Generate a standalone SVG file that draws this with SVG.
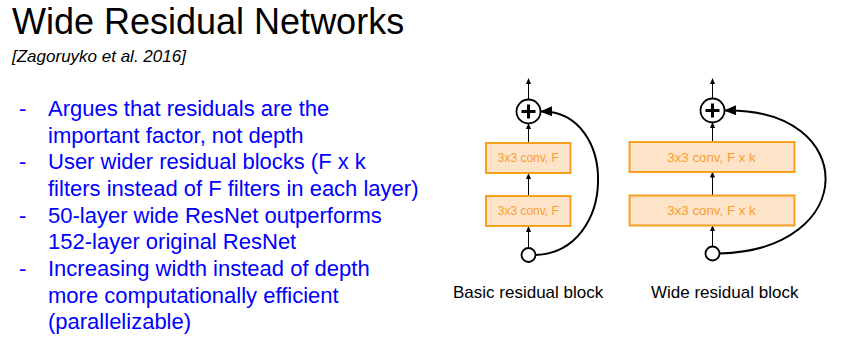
<svg xmlns="http://www.w3.org/2000/svg" width="846" height="345" viewBox="0 0 846 345">
<defs>
<marker id="sa" markerWidth="6" markerHeight="6" refX="5" refY="3" orient="auto" markerUnits="userSpaceOnUse"><path d="M0,0.5 L6,3 L0,5.5 Z" fill="#000"/></marker>
<marker id="ba" markerWidth="12" markerHeight="10" refX="11" refY="5" orient="auto" markerUnits="userSpaceOnUse"><path d="M0,0 L12,5 L0,10 Z" fill="#000"/></marker>
</defs>
<style>
.t{font-family:"Liberation Sans",Arial,sans-serif}
.b{fill:#0000ff;font-size:22px}
.box{fill:#fde3c8;stroke:#f7a020;stroke-width:2}
.bt{fill:#f7a030;font-size:12px;text-anchor:middle}
.wt{font-size:13.3px}
.ln{stroke:#000;stroke-width:1;fill:none;marker-end:url(#sa)}
.cv{stroke:#000;stroke-width:2;fill:none;marker-end:url(#ba)}
.c{fill:#fff;stroke:#000;stroke-width:1.8}
.lab{font-size:17px;fill:#000}
</style>
<rect width="846" height="345" fill="#fff"/>
<text class="t" x="12" y="34" font-size="36" fill="#000">Wide Residual Networks</text>
<text class="t" x="12" y="62" font-size="17" font-style="italic" fill="#000">[Zagoruyko et al. 2016]</text>
<g class="t b">
<text x="19" y="116">-</text><text x="48" y="116">Argues that residuals are the</text>
<text x="48" y="142.7">important factor, not depth</text>
<text x="19" y="169.3">-</text><text x="48" y="169.3">User wider residual blocks (F x k</text>
<text x="48" y="196">filters instead of F filters in each layer)</text>
<text x="19" y="222.7">-</text><text x="48" y="222.7">50-layer wide ResNet outperforms</text>
<text x="48" y="249.3">152-layer original ResNet</text>
<text x="19" y="276">-</text><text x="48" y="276">Increasing width instead of depth</text>
<text x="48" y="302.7">more computationally efficient</text>
<text x="48" y="329.3">(parallelizable)</text>
</g>
<g id="connectors">
<line class="ln" x1="528.5" y1="99" x2="528.5" y2="79"/>
<line class="ln" x1="528.5" y1="142" x2="528.5" y2="124"/>
<line class="ln" x1="528.5" y1="196" x2="528.5" y2="174"/>
<line class="ln" x1="528.5" y1="248" x2="528.5" y2="227"/>
<path class="cv" d="M535.5,255 C618,252 618,110 541,111.5"/>
<line class="ln" x1="712.5" y1="98.5" x2="712.5" y2="79"/>
<line class="ln" x1="712.5" y1="141" x2="712.5" y2="123"/>
<line class="ln" x1="712.5" y1="195" x2="712.5" y2="172.5"/>
<line class="ln" x1="712.5" y1="246.5" x2="712.5" y2="226"/>
<path class="cv" d="M719.5,253.5 C860,250 860,108 725,110.5"/>
</g>
<g id="basic-plus"><circle class="c" cx="528.5" cy="111.5" r="12"/><path d="M528.5,104.5 V118.5 M521.5,111.5 H535.5" stroke="#000" stroke-width="3"/></g>
<g id="basic-conv2"><rect class="box" x="486" y="143" width="84.5" height="30"/><text class="t bt" x="528.3" y="162.3">3x3 conv, F</text></g>
<g id="basic-conv1"><rect class="box" x="486" y="196" width="84.5" height="30"/><text class="t bt" x="528.3" y="215.3">3x3 conv, F</text></g>
<g id="basic-in"><circle class="c" cx="528.5" cy="255" r="7"/></g>
<text class="t lab" x="453" y="298">Basic residual block</text>
<g id="wide-plus"><circle class="c" cx="712.5" cy="110.5" r="12"/><path d="M712.5,103.5 V117.5 M705.5,110.5 H719.5" stroke="#000" stroke-width="3"/></g>
<g id="wide-conv2"><rect class="box" x="629.5" y="142" width="165" height="30"/><text class="t bt wt" x="711.5" y="161.5">3x3 conv, F x k</text></g>
<g id="wide-conv1"><rect class="box" x="629.5" y="195.5" width="165" height="30"/><text class="t bt wt" x="711.5" y="215">3x3 conv, F x k</text></g>
<g id="wide-in"><circle class="c" cx="712.5" cy="253.5" r="7"/></g>
<text class="t lab" x="651" y="298">Wide residual block</text>
</svg>
